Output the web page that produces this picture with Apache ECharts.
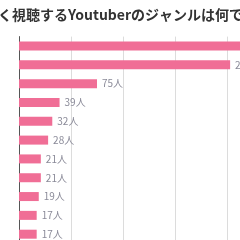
<!DOCTYPE html>
<html><head><meta charset="utf-8">
<script src="https://cdn.jsdelivr.net/npm/echarts@6/dist/echarts.min.js"></script>
<style>html,body{margin:0;padding:0;background:#fff}#c{width:240px;height:240px}</style>
</head><body><div id="c"></div>
<script>
const titleText = "よく視聴するYoutuberのジャンルは何ですか？";
const categories = ["ジャンル1","ジャンル2","ジャンル3","ジャンル4","ジャンル5","ジャンル6","ジャンル7","ジャンル8","ジャンル9","ジャンル10","ジャンル11"];
const values = [262, 203, 75, 39, 32, 28, 21, 21, 19, 17, 17];
const unit = "人";
const xTicks = [0, 50, 100, 150, 200, 250, 300];

const chart = echarts.init(document.getElementById('c'), null, {renderer: 'canvas'});
chart.setOption({
  animation: false,
  backgroundColor: '#fff',
  title: {
    text: titleText, left: -21, top: 3,
    textStyle: {fontFamily: 'Noto Sans CJK JP', fontSize: 14, fontWeight: 'bold', color: '#333'}
  },
  grid: {left: 19, top: 36.6, width: 312, height: 207, outerBoundsMode: 'none', containLabel: false},
  xAxis: {
    type: 'value', min: xTicks[0], max: xTicks[xTicks.length-1], interval: 50,
    axisLabel: {show: false}, axisLine: {show: false}, axisTick: {show: false},
    splitLine: {lineStyle: {color: '#dcdcdc', width: 1}}
  },
  yAxis: {
    type: 'category', data: categories, inverse: true,
    axisLabel: {show: false}, axisTick: {show: false},
    axisLine: {lineStyle: {color: '#555', width: 1}}
  },
  series: [{
    type: 'bar', data: values, barWidth: 9,
    itemStyle: {color: '#F06E96'},
    label: {show: true, position: 'right', distance: 5,
      formatter: p => p.value + unit,
      fontFamily: 'Noto Sans CJK JP', fontSize: 10, color: '#8a8a98'}
  }]
});
</script></body></html>
